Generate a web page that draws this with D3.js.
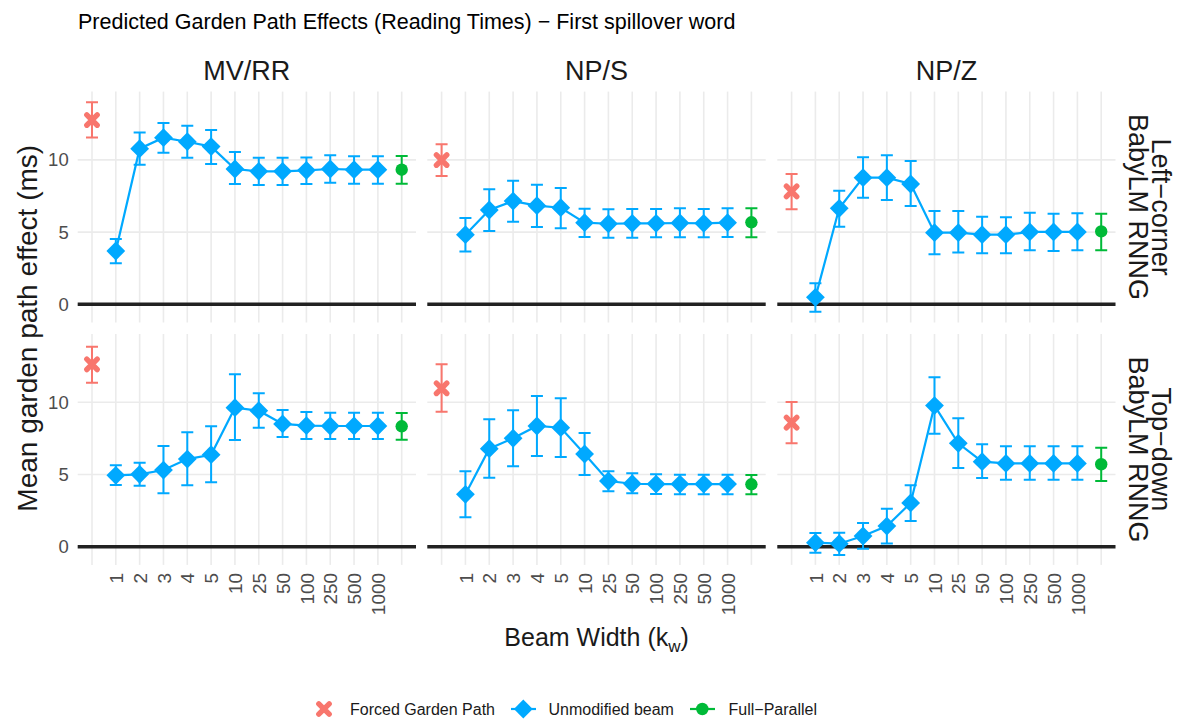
<!DOCTYPE html>
<html><head><meta charset="utf-8">
<script src="https://cdn.jsdelivr.net/npm/d3@7"></script>
<style>
body{margin:0;background:#fff;}
svg{display:block;font-family:"Liberation Sans",Arial,sans-serif;}
</style></head>
<body><svg id="c" width="1188" height="722"></svg>
<script>
// ---------- data ----------
const categories = ["Forced","1","2","3","4","5","10","25","50","100","250","500","1000","Full"];
const beamWidths = ["1","2","3","4","5","10","25","50","100","250","500","1000"];
const constructions = ["MV/RR","NP/S","NP/Z"];
const parsers = ["Left\u2212corner\nBabyLM RNNG","Top\u2212down\nBabyLM RNNG"];
const yTicks = [0,5,10];
const seriesNames = ["Forced Garden Path","Unmodified beam","Full\u2212Parallel"];

// panel order: LC-MV/RR, LC-NP/S, LC-NP/Z, TD-MV/RR, TD-NP/S, TD-NP/Z
const forcedMean = [12.76, 9.99, 7.82, 12.63, 10.97, 8.59];
const forcedLo   = [11.56, 8.89, 6.58, 11.36, 9.35, 7.16];
const forcedHi   = [13.99, 11.08, 9.02, 13.85, 12.63, 10.02];

const fullMean = [9.32, 5.68, 5.05, 8.34, 4.32, 5.71];
const fullLo   = [8.35, 4.64, 3.74, 7.41, 3.63, 4.55];
const fullHi   = [10.27, 6.65, 6.27, 9.26, 4.97, 6.86];

const beamMean = [
  [3.69, 10.78, 11.54, 11.26, 10.92, 9.37, 9.21, 9.21, 9.28, 9.37, 9.32, 9.32],
  [4.82, 6.53, 7.15, 6.83, 6.69, 5.65, 5.58, 5.61, 5.61, 5.63, 5.61, 5.65],
  [0.48, 6.65, 8.77, 8.77, 8.33, 4.96, 4.96, 4.82, 4.82, 5.01, 5.01, 5.01],
  [4.94, 5.01, 5.31, 6.07, 6.37, 9.63, 9.42, 8.50, 8.38, 8.36, 8.36, 8.36],
  [3.63, 6.79, 7.51, 8.36, 8.24, 6.42, 4.55, 4.36, 4.34, 4.34, 4.34, 4.34],
  [0.28, 0.21, 0.74, 1.43, 3.03, 9.77, 7.16, 5.89, 5.77, 5.77, 5.77, 5.77]
];
const beamLo = [
  [2.84, 9.67, 10.50, 10.15, 9.72, 8.33, 8.26, 8.26, 8.33, 8.42, 8.35, 8.35],
  [3.65, 5.08, 5.72, 5.35, 5.26, 4.66, 4.61, 4.61, 4.64, 4.64, 4.64, 4.66],
  [-0.51, 5.37, 7.38, 7.22, 6.81, 3.46, 3.58, 3.53, 3.53, 3.74, 3.69, 3.74],
  [4.27, 4.22, 3.70, 4.25, 4.46, 7.39, 8.24, 7.60, 7.46, 7.46, 7.46, 7.46],
  [2.04, 4.78, 5.57, 6.28, 6.21, 4.97, 3.84, 3.70, 3.65, 3.63, 3.63, 3.63],
  [-0.41, -0.57, -0.14, 0.23, 1.78, 7.83, 5.45, 4.76, 4.64, 4.64, 4.64, 4.64]
];
const beamHi = [
  [4.52, 11.89, 12.55, 12.37, 12.07, 10.55, 10.15, 10.15, 10.17, 10.32, 10.25, 10.25],
  [5.98, 7.96, 8.56, 8.28, 8.05, 6.62, 6.58, 6.60, 6.60, 6.65, 6.60, 6.65],
  [1.45, 7.87, 10.18, 10.32, 9.92, 6.46, 6.46, 6.07, 6.02, 6.34, 6.27, 6.30],
  [5.64, 5.82, 6.97, 7.92, 8.34, 11.94, 10.62, 9.47, 9.33, 9.28, 9.28, 9.28],
  [5.22, 8.82, 9.45, 10.44, 10.28, 7.87, 5.22, 5.08, 5.01, 4.99, 4.99, 4.99],
  [0.95, 0.97, 1.64, 2.63, 4.25, 11.73, 8.89, 7.09, 6.95, 6.95, 6.95, 6.95]
];

// ---------- style ----------
const colForced = "#F8766D", colBeam = "#00A9FF", colFull = "#00BA38";
const gridCol = "#EBEBEB", textCol = "#1A1A1A", tickCol = "#4D4D4D";

const svg = d3.select("#c");
const panelX = [[77.7,416],[427.3,765.7],[777.3,1115.5]];
const panelY = [[91.6,322.5],[334,564.9]];
const yDomain = [-1.26, 14.73];

// title
svg.append("text").attr("x",78).attr("y",29).attr("font-size",21.5).attr("fill","#000")
  .text("Predicted Garden Path Effects (Reading Times) \u2212 First spillover word");

// column strips
constructions.forEach((c,i)=>{
  svg.append("text").attr("x",(panelX[i][0]+panelX[i][1])/2).attr("y",80)
    .attr("text-anchor","middle").attr("font-size",27).attr("fill",textCol).text(c);
});
// row strips
parsers.forEach((p,r)=>{
  const cy=(panelY[r][0]+panelY[r][1])/2;
  const lines=p.split("\n");
  const g=svg.append("g").attr("transform",`translate(1148,${cy}) rotate(90)`);
  lines.forEach((l,k)=>{
    g.append("text").attr("x",0).attr("y",(k===0?0:23.5)-4).attr("text-anchor","middle")
      .attr("font-size",27).attr("fill",textCol).text(l);
  });
});

function diamond(g,x,y,col,s){
  s=s||9.4;
  g.append("path").attr("d",`M${x},${y-s}L${x+s},${y}L${x},${y+s}L${x-s},${y}Z`).attr("fill",col);
}
function cross(g,x,y,col){
  const s=5.2;
  g.append("path").attr("d",`M${x-s},${y-s}L${x+s},${y+s}M${x-s},${y+s}L${x+s},${y-s}`)
    .attr("stroke",col).attr("stroke-width",5.4).attr("stroke-linecap","round").attr("fill","none");
}
function errbar(g,x,lo,hi,col){
  g.append("path").attr("d",`M${x-6},${hi}H${x+6}M${x},${hi}V${lo}M${x-6},${lo}H${x+6}`)
    .attr("stroke",col).attr("stroke-width",2).attr("fill","none");
}

for(let r=0;r<2;r++){
  for(let c=0;c<3;c++){
    const pi=r*3+c;
    const x=d3.scalePoint().domain(categories).range(panelX[c]).padding(0.6);
    const y=d3.scaleLinear().domain(yDomain).range([panelY[r][1],panelY[r][0]]);
    const g=svg.append("g");
    // grid
    g.selectAll(".vg").data(categories).join("line")
      .attr("x1",d=>x(d)).attr("x2",d=>x(d)).attr("y1",panelY[r][0]).attr("y2",panelY[r][1])
      .attr("stroke",gridCol).attr("stroke-width",1.6);
    g.selectAll(".hg").data(yTicks).join("line")
      .attr("x1",panelX[c][0]).attr("x2",panelX[c][1]).attr("y1",d=>y(d)).attr("y2",d=>y(d))
      .attr("stroke",gridCol).attr("stroke-width",1.6);
    // zero line
    g.append("line").attr("x1",panelX[c][0]).attr("x2",panelX[c][1]).attr("y1",y(0)).attr("y2",y(0))
      .attr("stroke","#222").attr("stroke-width",3.6);
    // y axis (first column)
    if(c===0){
      const ya=svg.append("g").attr("transform",`translate(${panelX[0][0]},0)`)
        .call(d3.axisLeft(y).tickValues(yTicks).tickSize(0).tickPadding(9).tickFormat(d3.format("d")));
      ya.select(".domain").remove();
      ya.selectAll("text").attr("font-size",18.5).attr("fill",tickCol).attr("font-family","Liberation Sans, Arial, sans-serif");
    }
    // x axis (bottom row)
    if(r===1){
      const xa=svg.append("g").attr("transform",`translate(0,${panelY[1][1]})`)
        .call(d3.axisBottom(x).tickSize(0).tickFormat(d=>beamWidths.includes(d)?d:""));
      xa.select(".domain").remove();
      xa.selectAll("text").attr("font-size",19).attr("fill",tickCol).attr("font-family","Liberation Sans, Arial, sans-serif")
        .attr("transform","rotate(-90)").attr("text-anchor","end").attr("dy","0.35em").attr("y",0).attr("x",-8);
    }
    // forced
    errbar(g,x("Forced"),y(forcedLo[pi]),y(forcedHi[pi]),colForced);
    cross(g,x("Forced"),y(forcedMean[pi]),colForced);
    // beam
    const pts=beamWidths.map((b,k)=>({b,m:beamMean[pi][k],lo:beamLo[pi][k],hi:beamHi[pi][k]}));
    pts.forEach(p=>errbar(g,x(p.b),y(p.lo),y(p.hi),colBeam));
    g.append("path").datum(pts).attr("d",d3.line().x(p=>x(p.b)).y(p=>y(p.m)))
      .attr("stroke",colBeam).attr("stroke-width",2.2).attr("fill","none");
    pts.forEach(p=>diamond(g,x(p.b),y(p.m),colBeam));
    // full
    errbar(g,x("Full"),y(fullLo[pi]),y(fullHi[pi]),colFull);
    g.append("circle").attr("cx",x("Full")).attr("cy",y(fullMean[pi])).attr("r",6.2).attr("fill",colFull);
  }
}

// y axis title
svg.append("text").attr("transform",`translate(37,${(panelY[0][0]+panelY[1][1])/2}) rotate(-90)`)
  .attr("text-anchor","middle").attr("font-size",28).attr("fill",textCol).text("Mean garden path effect (ms)");
// x axis title
const xt=svg.append("text").attr("x",(panelX[0][0]+panelX[2][1])/2).attr("y",646).attr("text-anchor","middle")
  .attr("font-size",25).attr("fill",textCol);
xt.append("tspan").text("Beam Width (k");
xt.append("tspan").attr("font-size",17).attr("dy",6).text("w");
xt.append("tspan").attr("dy",-6).text(")");

// legend
const lg=svg.append("g").attr("font-size",16).attr("fill",textCol);
const ly=709;
cross(lg,324,ly,colForced);
lg.append("text").attr("x",350).attr("y",ly+5.5).text(seriesNames[0]);
lg.append("line").attr("x1",511).attr("x2",536).attr("y1",ly).attr("y2",ly).attr("stroke",colBeam).attr("stroke-width",2.2);
diamond(lg,523.3,ly,colBeam,9.4);
lg.append("text").attr("x",548.5).attr("y",ly+5.5).text(seriesNames[1]);
lg.append("line").attr("x1",690).attr("x2",715).attr("y1",ly).attr("y2",ly).attr("stroke",colFull).attr("stroke-width",2.2);
lg.append("circle").attr("cx",702.3).attr("cy",ly).attr("r",6.2).attr("fill",colFull);
lg.append("text").attr("x",728.5).attr("y",ly+5.5).text(seriesNames[2]);
</script></body></html>
